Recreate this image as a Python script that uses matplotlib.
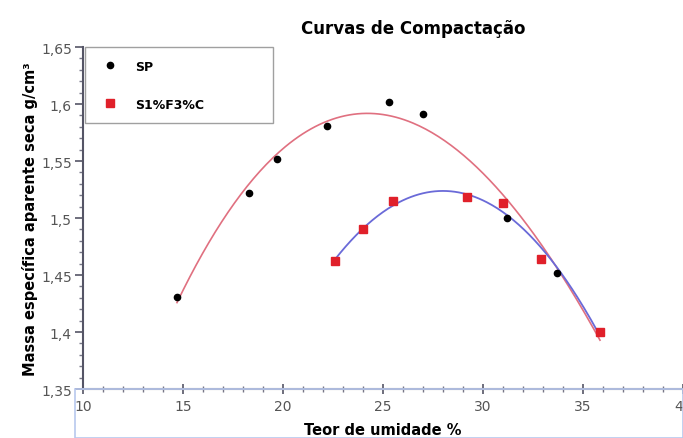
import numpy as np
import matplotlib.pyplot as plt
from matplotlib.ticker import MultipleLocator, FuncFormatter
from matplotlib.patches import Rectangle

# dados
sp_x = [14.7, 18.3, 19.7, 22.2, 25.3, 27.0, 31.2, 33.7, 35.85]
sp_y = [1.431, 1.522, 1.552, 1.581, 1.602, 1.591, 1.50, 1.452, 1.40]

s1_x = [22.6, 24.0, 25.5, 29.2, 31.0, 32.9, 35.85]
s1_y = [1.462, 1.49, 1.515, 1.518, 1.513, 1.464, 1.40]

fig = plt.figure(figsize=(6.83, 4.39), dpi=100)
ax = fig.add_axes([0.1215, 0.1116, 0.8785, 0.779])

#==================== curvas de ajuste ====================
p_sp = np.polyfit(sp_x, sp_y, 3)
xs = np.linspace(min(sp_x), max(sp_x), 200)
ax.plot(xs, np.polyval(p_sp, xs), color='#e07080', lw=1.2, zorder=2)

p_s1 = np.polyfit(s1_x, s1_y, 2)
xs2 = np.linspace(min(s1_x), max(s1_x), 200)
ax.plot(xs2, np.polyval(p_s1, xs2), color='#6a6ad8', lw=1.3, zorder=2)

ax.plot(sp_x, sp_y, 'o', color='black', ms=4.5, label='SP', zorder=3)
ax.plot(s1_x, s1_y, 's', color='#e0202a', ms=5.5, label='S1%F3%C', zorder=4)

ax.set_xlim(10, 40)
ax.set_ylim(1.35, 1.65)
ax.xaxis.set_major_locator(MultipleLocator(5))
ax.xaxis.set_minor_locator(MultipleLocator(1))
ax.yaxis.set_major_locator(MultipleLocator(0.05))
ax.yaxis.set_minor_locator(MultipleLocator(0.01))
fmt = FuncFormatter(lambda v, p: ('%g' % round(v, 2)).replace('.', ','))
ax.xaxis.set_major_formatter(fmt)
ax.yaxis.set_major_formatter(fmt)

for s in ['top', 'right']:
    ax.spines[s].set_visible(False)
ax.spines['left'].set_color('#555566')
ax.spines['bottom'].set_color('#777788')
ax.spines['left'].set_linewidth(1.5)
ax.spines['bottom'].set_linewidth(1.5)
ax.tick_params(axis='y', which='major', length=6, width=1.2, color='#555566',
               labelsize=10, labelcolor='#555555', pad=2)
ax.tick_params(axis='y', which='minor', length=3, width=1, color='#777788')
ax.tick_params(axis='x', which='major', direction='inout', length=7, width=1.2,
               color='#555566', labelsize=10, labelcolor='#555555', pad=4)
ax.tick_params(axis='x', which='minor', direction='inout', length=4, width=1, color='#777788')

ax.set_title('Curvas de Compactação', fontsize=12, fontweight='bold', pad=10, x=0.55)
ax.set_xlabel('Teor de umidade %', fontsize=10.5, fontweight='bold', labelpad=6)
ax.set_ylabel('Massa específica aparente seca g/cm³', fontsize=10.5, fontweight='bold', labelpad=2)

leg = ax.legend(loc='upper left', bbox_to_anchor=(0.003, 1.0, 0.313, 0.0), mode='expand',
                fancybox=False, frameon=True, borderpad=1.0, labelspacing=2.0,
                handletextpad=1.0, borderaxespad=0, prop={'weight': 'bold', 'size': 9})
leg.get_frame().set_edgecolor('#888888')
leg.get_frame().set_linewidth(1.0)

# caixa azul clara em volta do eixo x
fig.patches.append(Rectangle((0.11, 0.0), 0.89, 0.1116, transform=fig.transFigure,
                             fill=False, edgecolor='#b8c8ee', lw=1.2))

plt.savefig('out.png', dpi=100)
